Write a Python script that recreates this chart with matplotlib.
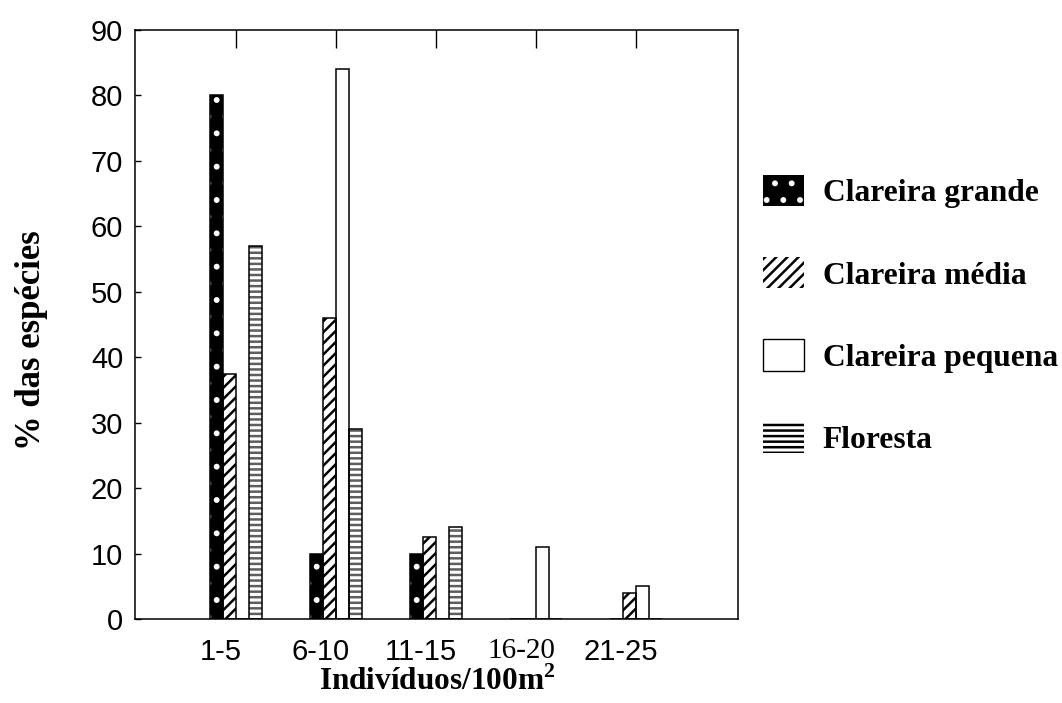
import matplotlib
matplotlib.use("Agg")
import matplotlib.pyplot as plt
from matplotlib.patches import Patch
import numpy as np

# Density classes (individuals per 100 m2) and share of species per habitat
classes = ["1-5", "6-10", "11-15", "16-20", "21-25"]
series_names = ["Clareira grande", "Clareira média", "Clareira pequena", "Floresta"]
clareira_grande = [80, 10, 10, 0, 0]
clareira_media = [37.5, 46, 12.5, 0, 4]
clareira_pequena = [0, 84, 0, 11, 5]
floresta = [57, 29, 14, 0, 0]
y_ticks = [0, 10, 20, 30, 40, 50, 60, 70, 80, 90]

SANS = "Liberation Sans"
SERIF = "Liberation Serif"

plt.rcParams["hatch.linewidth"] = 1.8
plt.rcParams["mathtext.fontset"] = "custom"
plt.rcParams["mathtext.bf"] = "Liberation Serif:bold"
plt.rcParams["mathtext.rm"] = "Liberation Serif:bold"

# face colour, hatch, hatch colour
bar_styles = [
    ("black", ".", "white"),
    ("white", "///", "black"),
    ("white", "", "black"),
    ("white", "---", "#5e5e5e"),
]
legend_styles = [
    ("black", ".", "white"),
    ("white", "///", "black"),
    ("white", "", "black"),
    ("white", "---", "black"),
]

fig = plt.figure(figsize=(10.62, 7.03), dpi=100)
ax = fig.add_axes([135 / 1062, 1 - 619 / 703, 603 / 1062, 589 / 703])

values = [clareira_grande, clareira_media, clareira_pequena, floresta]
x = np.arange(len(classes))
width = 0.13
offsets = (np.arange(4) - 1.5) * width

for vals, off, (face, hatch, hcol) in zip(values, offsets, bar_styles):
    ax.bar(x + off, vals, width, color=face, edgecolor=hcol,
           hatch=hatch, linewidth=0, zorder=2)
    ax.bar(x + off, vals, width, fill=False, edgecolor="black",
           linewidth=1.1, zorder=3)

ax.set_xlim(-1.01, 5.02)
ax.set_ylim(0, 90)
ax.set_yticks(y_ticks)
ax.set_yticklabels([str(v) for v in y_ticks], fontfamily=SANS, fontsize=21)
ax.tick_params(axis="y", direction="in", length=4, width=1.0, pad=8.5)

ax.set_xticks(x - 0.15)
ax.set_xticklabels(classes, fontsize=21, fontfamily=SANS)
ax.tick_params(axis="x", length=0, pad=14)
for lbl in ax.get_xticklabels():
    if lbl.get_text() == "16-20":
        lbl.set_fontfamily(SERIF)

top = ax.secondary_xaxis("top")
top.set_xticks(x)
top.set_xticklabels([])
top.tick_params(direction="in", length=13, width=1.0)
top.spines["top"].set_visible(False)

for s in ax.spines.values():
    s.set_linewidth(1.1)

fig.text(437 / 1062, 1 - 682 / 703, r"Indivíduos/100m$^{\mathbf{2}}$", ha="center",
         va="center", fontfamily=SERIF, fontweight="bold", fontsize=22.5)
fig.text(32 / 1062, 1 - 340 / 703, "% das espécies", ha="center", va="center",
         rotation=90, fontfamily=SERIF, fontweight="bold", fontsize=25)

handles = []
for name, (face, hatch, hcol) in zip(series_names, legend_styles):
    if hatch:
        h = Patch(facecolor=face, edgecolor=hcol, hatch=hatch, linewidth=0, label=name)
    else:
        h = Patch(facecolor=face, edgecolor="black", linewidth=1.0, label=name)
    handles.append(h)

leg = ax.legend(handles=handles, loc="center left",
                bbox_to_anchor=(763 / 1062, 1 - 315 / 703),
                bbox_transform=fig.transFigure, frameon=False,
                prop={"family": SERIF, "weight": "bold", "size": 22.7},
                handlelength=1.3, handleheight=1.14, handletextpad=0.6,
                labelspacing=1.55, borderpad=0, borderaxespad=0)

fig.savefig("out.png", dpi=100)
